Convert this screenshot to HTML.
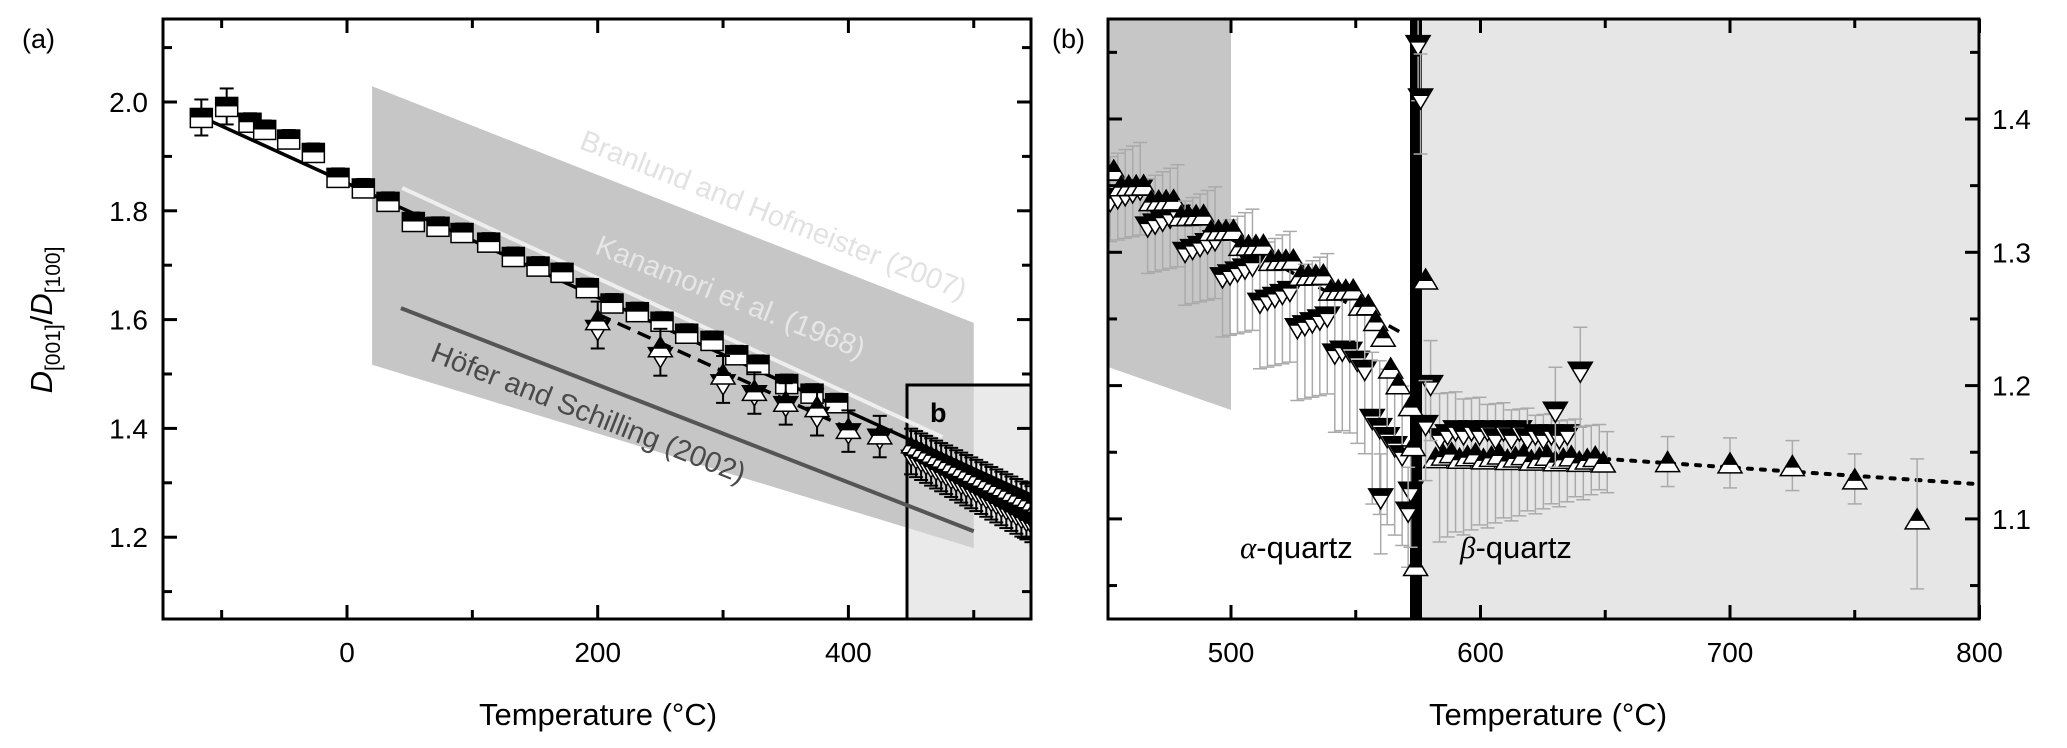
<!DOCTYPE html>
<html><head><meta charset="utf-8"><style>
html,body{margin:0;padding:0;background:#fff;}
svg{display:block;font-family:"Liberation Sans",sans-serif;}
</style></head><body>
<svg id="s" width="2067" height="748" viewBox="0 0 2067 748" xmlns="http://www.w3.org/2000/svg">
<defs>
<clipPath id="ca"><rect x="163" y="19" width="868" height="600"/></clipPath>
<clipPath id="cb"><rect x="1108" y="19" width="871" height="600"/></clipPath>
</defs>
<g id="ga" clip-path="url(#ca)"></g>
<g id="gb" clip-path="url(#cb)"></g>
<g id="fr"></g>
<text x="22" y="48" font-size="27">(a)</text>
<text x="1052" y="48" font-size="27">(b)</text>
<text x="598" y="725" font-size="31" text-anchor="middle">Temperature (°C)</text>
<text x="1548" y="725" font-size="31" text-anchor="middle">Temperature (°C)</text>
<text transform="translate(52,320) rotate(-90)" font-size="31" text-anchor="middle"><tspan font-style="italic">D</tspan><tspan font-size="21" dy="8">[001]</tspan><tspan dy="-8">/</tspan><tspan font-style="italic">D</tspan><tspan font-size="21" dy="8">[100]</tspan></text>
</svg>
<script>
const NS="http://www.w3.org/2000/svg";
function el(p,t,a,txt){const e=document.createElementNS(NS,t);for(const k in a)e.setAttribute(k,a[k]);if(txt!==undefined)e.textContent=txt;p.appendChild(e);return e;}
const ga=document.getElementById('ga'),gb=document.getElementById('gb'),fr=document.getElementById('fr');
const ax=t=>347+t*1.2535, ay=v=>102+(2.0-v)*544;
const bx=t=>1231+(t-500)*2.495, by=v=>119+(1.4-v)*1333;
el(ga,'polygon',{points:`${ax(20)},${ay(2.029)} ${ax(500)},${ay(1.594)} ${ax(500)},${ay(1.18)} ${ax(20)},${ay(1.517)}`,fill:'#c6c6c6'});
el(ga,'rect',{x:907,y:385,width:130,height:240,fill:'#d8d8d8','fill-opacity':0.55,stroke:'#000','stroke-width':3});
el(ga,'line',{x1:ax(44),y1:ay(1.842),x2:ax(475),y2:ay(1.384),stroke:'#eeeeee','stroke-width':4});
el(ga,'line',{x1:ax(43),y1:ay(1.621),x2:ax(500),y2:ay(1.211),stroke:'#555','stroke-width':4});
el(ga,'text',{x:930,y:422,'font-size':27,'font-weight':'bold'},'b');
el(ga,'text',{transform:`translate(770,224) rotate(21.6)`,'text-anchor':'middle','font-size':29,fill:'#e2e2e2'},'Branlund and Hofmeister (2007)');
el(ga,'text',{transform:`translate(727,306) rotate(21.6)`,'text-anchor':'middle','font-size':29,fill:'#e6e6e6'},'Kanamori et al. (1968)');
el(ga,'text',{transform:`translate(585,422) rotate(21.6)`,'text-anchor':'middle','font-size':29,fill:'#4a4a4a'},'Höfer and Schilling (2002)');
const fit=t=>1.982-(t+125)*0.00105;
el(ga,'line',{x1:ax(-125),y1:ay(fit(-125)),x2:ax(600),y2:ay(fit(600)),stroke:'#000','stroke-width':3.5});
el(ga,'line',{x1:ax(200),y1:ay(1.61),x2:ax(400),y2:ay(1.40),stroke:'#000','stroke-width':3.5,'stroke-dasharray':'14,8'});
function eb(g,x,y1,y2,c,w){el(g,'line',{x1:x,y1:y1,x2:x,y2:y2,stroke:c,'stroke-width':w});el(g,'line',{x1:x-7,y1:y1,x2:x+7,y2:y1,stroke:c,'stroke-width':w});el(g,'line',{x1:x-7,y1:y2,x2:x+7,y2:y2,stroke:c,'stroke-width':w});}
function sq(g,x,y){el(g,'rect',{x:x-11,y:y-9,width:22,height:19,fill:'#fff',stroke:'#000','stroke-width':1.5});el(g,'rect',{x:x-11,y:y-9,width:22,height:9,fill:'#000'});}
function up(g,x,y,s){s=s||1;const w=12*s,h=20*s;el(g,'polygon',{points:`${x},${y-h/2} ${x+w},${y+h/2} ${x-w},${y+h/2}`,fill:'#fff',stroke:'#000','stroke-width':1.5});el(g,'polygon',{points:`${x},${y-h/2} ${x+w*0.6},${y+h*0.1} ${x-w*0.6},${y+h*0.1}`,fill:'#000'});}
function dn(g,x,y,s){s=s||1;const w=12*s,h=20*s;el(g,'polygon',{points:`${x-w},${y-h/2} ${x+w},${y-h/2} ${x},${y+h/2}`,fill:'#fff',stroke:'#000','stroke-width':1.5});el(g,'polygon',{points:`${x-w},${y-h/2} ${x+w},${y-h/2} ${x+w*0.7},${y-h*0.15} ${x-w*0.7},${y-h*0.15}`,fill:'#000'});}
const sqd=[[302,245],[340,222],[375,255],[397,270],[433,290],[470,318],[507,370],[545,392],[582,420],[620,462],[657,472],[693,485],[733,505],[770,535],[807,555],[843,568],[881,600],[918,632],[956,650],[993,670],[1030,695],[1068,710],[1105,740],[1137,760],[1180,800],[1218,820],[1255,840]];
sqd.forEach((p,i)=>{const x=p[0]*0.6667,y=p[1]*0.4795;const e=i<2?18:9;eb(ga,x,y-e,y+e,'#000',2);sq(ga,x,y);});
const trd=[[200,1.60,1.58],[250,1.55,1.53],[300,1.50,1.48],[325,1.47,1.46],[350,1.45,1.44],[375,1.44,1.42],[400,1.40,1.39],[425,1.39,1.38]];
trd.forEach(d=>{const x=ax(d[0]);eb(ga,x,ay(d[1])-18,ay(d[2])+18,'#000',2);dn(ga,x,ay(d[2]));up(ga,x,ay(d[1]));});
for(let t=450;t<=560;t+=4){const x=ax(t);const v1=1.37-(t-450)*0.0011,v2=1.345-(t-450)*0.0013;eb(ga,x,ay(v1)-16,ay(v2)+16,'#000',2);dn(ga,x,ay(v2),0.8);up(ga,x,ay(v1),0.8);}
el(gb,'rect',{x:1422,y:19,width:560,height:600,fill:'#e6e6e6'});
el(gb,'polygon',{points:`1108,19 1231,19 1231,410 1108,367`,fill:'#c6c6c6'});
el(gb,'rect',{x:1410,y:19,width:12,height:600,fill:'#000'});
const tA=el(gb,'text',{x:1240,y:558,'font-size':31});el(tA,'tspan',{'font-style':'italic','font-family':'"Liberation Serif",serif'},'α');el(tA,'tspan',{},'-quartz');
const tB=el(gb,'text',{x:1460,y:558,'font-size':31});el(tB,'tspan',{'font-style':'italic','font-family':'"Liberation Serif",serif'},'β');el(tB,'tspan',{},'-quartz');
el(gb,'line',{x1:bx(650),y1:by(1.145),x2:bx(800),y2:by(1.126),stroke:'#000','stroke-width':4,'stroke-dasharray':'4,9','stroke-linecap':'round'});
el(gb,'line',{x1:bx(500),y1:by(1.31),x2:bx(568),y2:by(1.24),stroke:'#000','stroke-width':3.5,'stroke-dasharray':'12,8'});
const G='#aaa';
for(let t=450;t<=568;t+=3){const f=(t-450)/118;
 let vu=1.36-f*0.11-(t>555?(t-555)*0.004:0)+((t*3)%4-1.5)*0.003;
 let vd=1.35-f*0.15-(t>545?(t-545)*0.003:0)+((t*7)%5-2)*0.006;
 const x=bx(t);eb(gb,x+4,by(vd)-45-f*25,by(vd)+40+f*50,G,1.5);
 dn(gb,x+4,by(vd));up(gb,x,by(vu));}
for(let t=582;t<=650;t+=3.2){const x=bx(t);const vu=1.148-(t-582)*0.00005+((t*5|0)%3-1)*0.002,vd=1.163+((t*7|0)%3-1)*0.003;
 eb(gb,x+4,by(vu)-30-(650-t)*0.5,by(vu)+30+(650-t)*0.8,G,1.5);if(t<635)dn(gb,x+4,by(vd));up(gb,x,by(vu));}
[[675,1.143],[700,1.142],[725,1.14],[750,1.13],[775,1.10]].forEach(d=>{const x=bx(d[0]);eb(gb,x,by(d[1])-25-(d[0]==775?35:0),by(d[1])+25+(d[0]==775?45:0),G,1.5);up(gb,x,by(d[1]));});
[[575,1.455],[576,1.415],[560,1.115],[572,1.12],[571,1.105],[640,1.21],[630,1.18],[580,1.20],[578,1.17]].forEach(d=>{const x=bx(d[0]);eb(gb,x,by(d[1])-45,by(d[1])+55,G,1.5);dn(gb,x,by(d[1]));});
[[578,1.28],[574,1.065],[572,1.185],[573,1.155]].forEach(d=>up(gb,bx(d[0]),by(d[1])));
function frame(x0,x1){el(fr,'rect',{x:x0,y:19,width:x1-x0,height:600,fill:'none',stroke:'#000','stroke-width':3});}
frame(163,1031);frame(1108,1979);
for(let v=1.1;v<=2.11;v+=0.1){const y=ay(v);const maj=Math.round(v*10)%2==0;const L=maj?14:9;
 el(fr,'line',{x1:163,y1:y,x2:163+L,y2:y,stroke:'#000','stroke-width':3});el(fr,'line',{x1:1031,y1:y,x2:1031-L,y2:y,stroke:'#000','stroke-width':3});
 if(maj&&v>1.15&&v<2.05)el(fr,'text',{x:148,y:y+10,'font-size':28,'text-anchor':'end'},v.toFixed(1));}
for(let t=-100;t<=500;t+=100){const x=ax(t);const maj=t%200==0;const L=maj?14:9;
 el(fr,'line',{x1:x,y1:619,x2:x,y2:619-L,stroke:'#000','stroke-width':3});el(fr,'line',{x1:x,y1:19,x2:x,y2:19+L,stroke:'#000','stroke-width':3});
 if(maj)el(fr,'text',{x:x,y:662,'font-size':28,'text-anchor':'middle'},t);}
for(let v=1.05;v<=1.46;v+=0.05){const y=by(v);const maj=Math.round(v*100)%10==0;const L=maj?14:9;
 el(fr,'line',{x1:1108,y1:y,x2:1108+L,y2:y,stroke:'#000','stroke-width':3});el(fr,'line',{x1:1979,y1:y,x2:1979-L,y2:y,stroke:'#000','stroke-width':3});
 if(maj)el(fr,'text',{x:1992,y:y+10,'font-size':28},v.toFixed(1));}
for(let t=500;t<=800;t+=50){const x=bx(t);const maj=t%100==0;const L=maj?14:9;
 el(fr,'line',{x1:x,y1:619,x2:x,y2:619-L,stroke:'#000','stroke-width':3});el(fr,'line',{x1:x,y1:19,x2:x,y2:19+L,stroke:'#000','stroke-width':3});
 if(maj)el(fr,'text',{x:x,y:662,'font-size':28,'text-anchor':'middle'},t);}
</script>
</body></html>
